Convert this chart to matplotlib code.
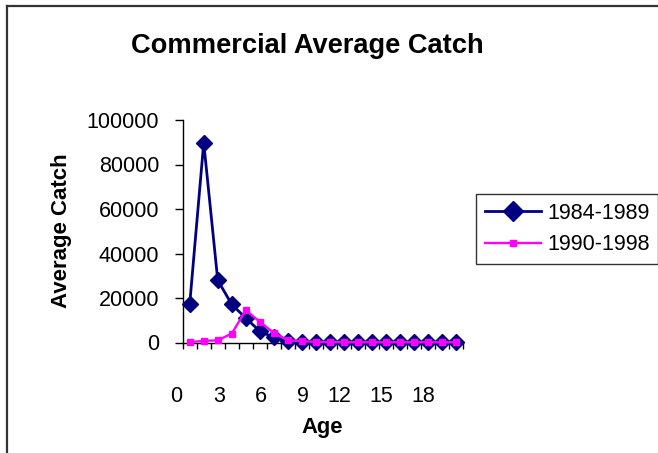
import matplotlib
matplotlib.use("Agg")
import matplotlib.pyplot as plt
from matplotlib.lines import Line2D

plt.rcParams['font.family'] = ['Liberation Sans', 'DejaVu Sans']

# ---- data ----
ages = list(range(1, 21))
catch_1984_1989 = [17200, 89800, 28000, 17100, 11000, 5100, 2250, 700, 300, 200,
                   150, 100, 100, 100, 100, 100, 100, 100, 100, 100]
catch_1990_1998 = [200, 700, 1000, 4000, 14500, 9300, 4300, 1000, 600, 300,
                   200, 150, 100, 100, 100, 100, 100, 100, 100, 100]
series_labels = ['1984-1989', '1990-1998']
x_tick_labels = ['0', '3', '6', '9', '12', '15', '18']
y_ticks = [0, 20000, 40000, 60000, 80000, 100000]
title = 'Commercial Average Catch'
x_label = 'Age'
y_label = 'Average Catch'

W, H = 658, 453
fig = plt.figure(figsize=(W / 100, H / 100), dpi=100)

# plot area in pixel coords
left, right, top, bottom = 182.7, 463.0, 120.0, 342.5
ax = fig.add_axes([left / W, 1 - bottom / H, (right - left) / W, (bottom - top) / H])

navy = '#000080'
magenta = '#FF00FF'
ax.plot(ages, catch_1984_1989, color=navy, lw=2.0, marker='D', ms=8.2,
        mfc=navy, mec=navy, label=series_labels[0], clip_on=False, zorder=3)
ax.plot(ages, catch_1990_1998, color=magenta, lw=1.7, marker='s', ms=5.0,
        mfc=magenta, mec=magenta, label=series_labels[1], clip_on=False, zorder=4)

ax.set_xlim(0.5, len(ages) + 0.5)
ax.set_ylim(0, 100000)
for s in ['top', 'right']:
    ax.spines[s].set_visible(False)
for s in ['left', 'bottom']:
    ax.spines[s].set_linewidth(1.0)
    ax.spines[s].set_color('black')

# category boundaries as ticks
bounds = [k + 0.5 for k in range(0, len(ages) + 1)]
labels = []
for k in range(0, len(ages) + 1):
    labels.append(str(k) if str(k) in x_tick_labels else '')
ax.set_xticks(bounds)
ax.set_xticklabels(labels, ha='right')
ax.tick_params(axis='x', direction='out', length=4, width=1, pad=27, labelsize=15.5)
ax.set_yticks(y_ticks)
ax.set_yticklabels([str(v) for v in y_ticks])
ax.tick_params(axis='y', direction='out', length=6, width=1, pad=11, labelsize=15.5)

# title and axis labels
fig.text(307 / W, 1 - 46 / H, title, ha='center', va='center',
         fontsize=19.6, fontweight='bold')
fig.text(322 / W, 1 - 427 / H, x_label, ha='center', va='center',
         fontsize=15.8, fontweight='bold')
fig.text(62 / W, 1 - 231 / H, y_label, ha='center', va='center',
         fontsize=16, fontweight='bold', rotation=90)

# legend
leg = fig.legend(loc='upper left', bbox_to_anchor=(476 / W, 1 - 194 / H),
                 frameon=True, fancybox=False, shadow=False, fontsize=15.5,
                 handlelength=2.6, handletextpad=0.3, labelspacing=0.5,
                 borderpad=0.4, borderaxespad=0, markerscale=1.0)
leg.get_frame().set_edgecolor('black')
leg.get_frame().set_linewidth(1.0)
handles = leg.legend_handles
handles[0].set_markersize(10.5)

# chart-area border (top and left edges visible)
fig.add_artist(Line2D([7 / W, 1.0], [1 - 6 / H, 1 - 6 / H], color='#333333', lw=1.6,
                      transform=fig.transFigure))
fig.add_artist(Line2D([7 / W, 7 / W], [1 - 6 / H, 0.0], color='#333333', lw=1.6,
                      transform=fig.transFigure))

fig.savefig('out.png', dpi=100)
